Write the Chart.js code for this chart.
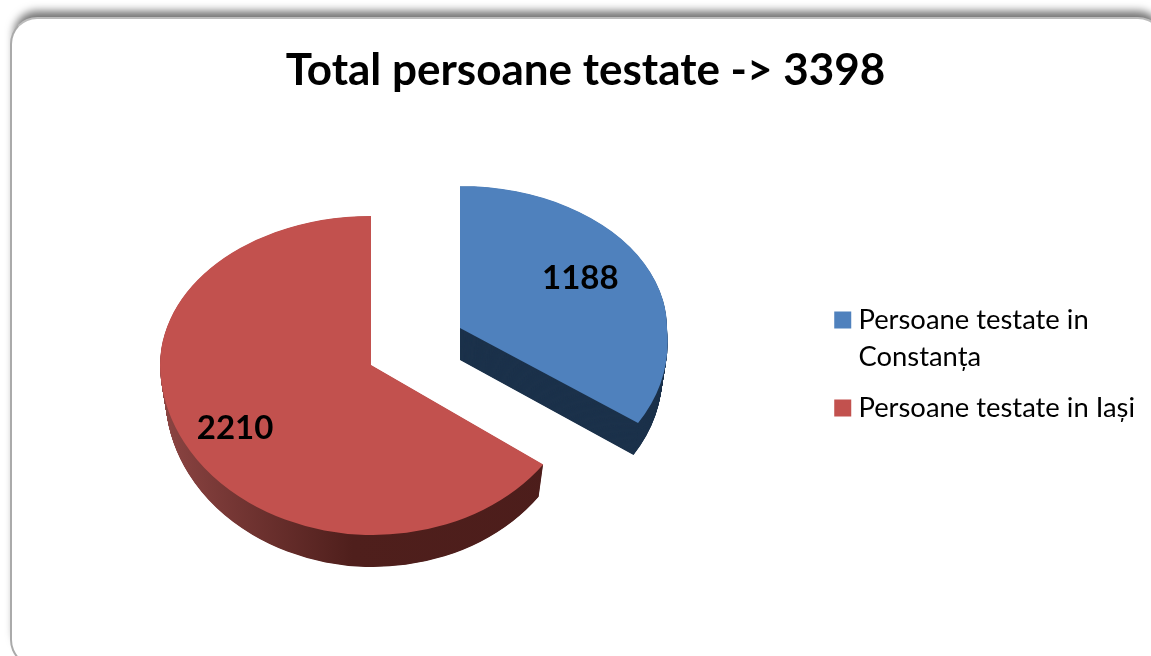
<!DOCTYPE html>
<html>
<head>
<meta charset="utf-8">
<title>Total persoane testate</title>
<script src="https://cdn.jsdelivr.net/npm/chart.js@4"></script>
<style>
    html, body { margin: 0; padding: 0; background: #fff; overflow: hidden; }
    #wrap { position: relative; width: 1151px; height: 656px; overflow: hidden; }
    #card {
        position: absolute; left: 10px; top: 17px; width: 1155px; height: 650px;
        box-sizing: border-box; background: #fff;
        border: 2px solid #aaaaaa; border-top-color: #bcbcbc; border-radius: 27px;
        box-shadow: 0 -10px 9px -4px rgba(0, 0, 0, 0.55);
    }
    #chart { position: absolute; left: 0; top: 0; }
</style>
</head>
<body>
<div id="wrap">
    <div id="card"></div>
    <canvas id="chart" width="1151" height="656"></canvas>
</div>
<script>
const chartTitle = 'Total persoane testate -> 3398';
const categories = [['Persoane testate in', 'Constanța'], 'Persoane testate in Iași'];
const values = [1188, 2210];
const faceColors = ['#4f81bd', '#c2514e'];

// how the flat pie gets its 3D look, one entry per slice
const pieCentre = { x: 371, y: 365 };
const explode = [{ x: 89, y: -37 }, { x: 0, y: 0 }];
const widthScale = [207 / 211, 1];
const tiltUp = [142 / 211, 149 / 211];
const tiltDown = [162 / 211, 170 / 211];
const lowerShear = [0.085, 0.01];
const depth = 32;
const depthNarrowing = 0.0008;
const labelRadius = [0.68, 0.75];
const labelNudge = [{ x: -5, y: -6 }, { x: 5, y: 5 }];
const legendDrop = 36;

function sideColor(ctx, arc, index) {
    if (index === 0) {
        return '#1c324b';
    }
    const r = arc.outerRadius;
    const grad = ctx.createLinearGradient(arc.x - r, 0, arc.x + r, 0);
    grad.addColorStop(0, '#8b4442');
    grad.addColorStop(0.45, '#4f1f1c');
    grad.addColorStop(1, '#4c1d1b');
    return grad;
}

// draws one arc squashed by a different amount above and below its tip
function drawTilted(ctx, arc, index, shiftY) {
    const px = pieCentre.x + explode[index].x;
    const py = pieCentre.y + explode[index].y + shiftY;
    const r = arc.outerRadius;
    const sx = widthScale[index] * (1 - depthNarrowing * shiftY);
    [[tiltUp[index], py - r, 0], [tiltDown[index], py, lowerShear[index]]].forEach(([tilt, top, shear]) => {
        ctx.save();
        ctx.beginPath();
        ctx.rect(0, top, ctx.canvas.width, r);
        ctx.clip();
        ctx.translate(px, py);
        ctx.scale(sx, tilt);
        ctx.transform(1, 0, shear, 1, 0, 0);
        ctx.translate(-arc.x, -arc.y);
        arc.draw(ctx);
        ctx.restore();
    });
}

const tiltedPie = {
    id: 'tiltedPie',
    afterLayout(chart) {
        chart.legend.top += legendDrop;
        chart.legend.bottom += legendDrop;
    },
    beforeDatasetDraw(chart, args) {
        const ctx = chart.ctx;
        args.meta.data.forEach((arc, i) => {
            const faceOptions = arc.options;
            const sideOptions = Object.create(faceOptions);
            sideOptions.backgroundColor = sideColor(ctx, arc, i);
            arc.options = sideOptions;
            for (let d = depth; d > 0; d -= 0.5) {
                drawTilted(ctx, arc, i, d);
            }
            arc.options = faceOptions;
            drawTilted(ctx, arc, i, 0);
        });
        return false;
    },
    afterDatasetsDraw(chart) {
        const ctx = chart.ctx;
        const arcs = chart.getDatasetMeta(0).data;
        ctx.save();
        ctx.font = 'bold 33px Lato';
        ctx.fillStyle = '#000';
        ctx.textAlign = 'center';
        ctx.textBaseline = 'middle';
        arcs.forEach((arc, i) => {
            const mid = (arc.startAngle + arc.endAngle) / 2;
            const dist = arc.outerRadius * labelRadius[i];
            const sy = Math.sin(mid);
            const x = pieCentre.x + explode[i].x + Math.cos(mid) * dist * widthScale[i] + labelNudge[i].x;
            const y = pieCentre.y + explode[i].y + sy * dist * (sy < 0 ? tiltUp[i] : tiltDown[i]) + labelNudge[i].y;
            ctx.fillText(String(values[i]), x, y);
        });
        ctx.restore();
    }
};

document.addEventListener('DOMContentLoaded', function () {
    new Chart(document.getElementById('chart').getContext('2d'), {
        type: 'pie',
        data: {
            labels: categories,
            datasets: [{
                data: values,
                backgroundColor: faceColors,
                borderWidth: 0
            }]
        },
        options: {
            responsive: false,
            animation: false,
            radius: 211,
            layout: { padding: { left: 26, right: 6 } },
            plugins: {
                title: {
                    display: true,
                    text: chartTitle,
                    color: '#000',
                    font: { family: 'Lato', size: 44, weight: 'bold' },
                    padding: { top: 44, bottom: 16 }
                },
                legend: {
                    display: true,
                    position: 'right',
                    labels: {
                        color: '#000',
                        font: { family: 'Lato', size: 27.4, lineHeight: 1.35 },
                        usePointStyle: true,
                        pointStyle: 'rect',
                        boxWidth: 4,
                        boxHeight: 17,
                        padding: 14
                    }
                },
                tooltip: { enabled: false }
            }
        },
        plugins: [tiltedPie]
    });
});
</script>
</body>
</html>
